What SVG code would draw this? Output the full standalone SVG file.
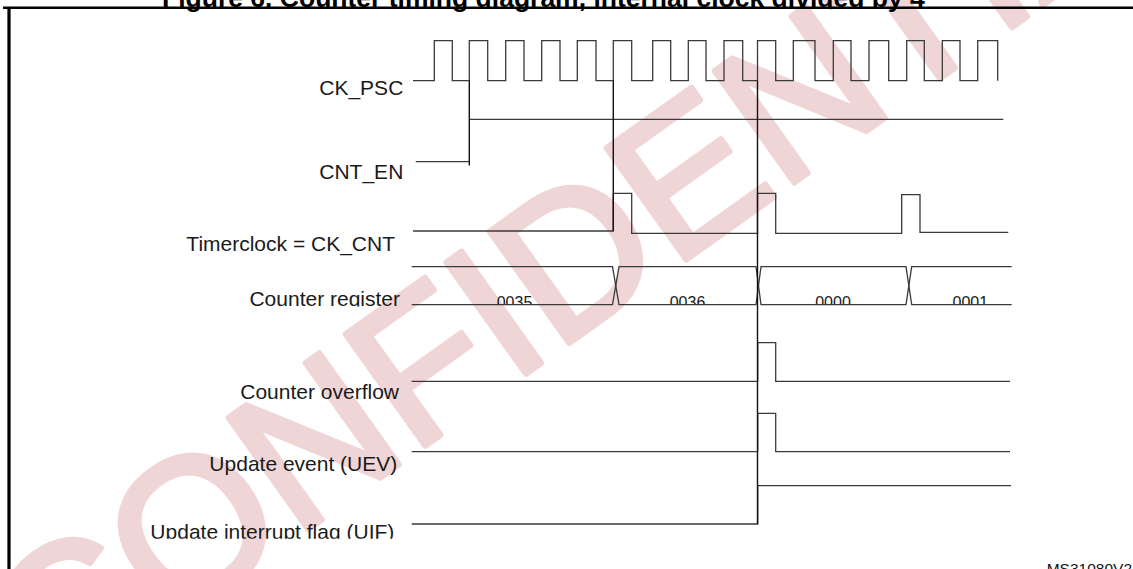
<svg xmlns="http://www.w3.org/2000/svg" width="1133" height="569" viewBox="0 0 1133 569">
<style>
  .lbl{font-family:"Liberation Sans",Arial,sans-serif;font-size:21px;fill:#1a1a1a;text-anchor:end}
  .val{font-family:"Liberation Sans",Arial,sans-serif;font-size:16px;fill:#1a1a1a;text-anchor:middle}
  .sig{fill:none;stroke:#3a3a3a;stroke-width:1.3;stroke-linejoin:miter}
  .mark{fill:none;stroke:#111;stroke-width:1.4}
  .wm{font-family:"Liberation Sans",Arial,sans-serif;font-size:199px;fill:#f0d5d7;stroke:#f0d5d7;stroke-width:6;stroke-linejoin:round}
</style>
<defs>
  <clipPath id="busclip"><rect x="400" y="260" width="620" height="44.3"/></clipPath>
  <clipPath id="regclip"><rect x="0" y="280" width="410" height="26.5"/></clipPath>
  <clipPath id="uifclip"><rect x="0" y="510" width="410" height="28.8"/></clipPath>
</defs>
<rect width="1133" height="569" fill="#fff"/>
<text class="wm" transform="translate(52,712) rotate(-35.5)">CONFIDENTIAL</text>

<g id="frame">
  <text x="162" y="6.5" font-family="'Liberation Sans',Arial,sans-serif" font-weight="bold" font-size="26.5" fill="#000">Figure 6. Counter timing diagram, internal clock divided by 4</text>
  <line x1="3" y1="7.8" x2="1133" y2="7.8" stroke="#000" stroke-width="2.5"/>
  <line x1="9" y1="7" x2="9" y2="569" stroke="#000" stroke-width="3.2"/>
  <text x="1046.7" y="574.4" font-family="'Liberation Sans',Arial,sans-serif" font-size="15.5" fill="#111">MS31080V2</text>
</g>

<g id="ck_psc">
  <text class="lbl" x="403.3" y="95">CK_PSC</text>
  <path class="sig" d="M413,80.7 H434.3 V40.7 H452.3 V80.7 H469.3 V40.7 H487.7 V80.7 H505.7 V40.7 H524 V80.7 H541.7 V40.7 H560 V80.7 H577.3 V40.7 H596 V80.7 H613.3 V40.7 H631.7 V80.7 H652.7 V40.7 H670.7 V80.7 H688.3 V40.7 H706 V80.7 H724 V40.7 H742.7 V80.7 H757.5 V40.7 H775.7 V80.7 H793.3 V40.7 H815 V80.7 H833.3 V40.7 H851 V80.7 H869 V40.7 H888.7 V80.7 H906.7 V40.7 H924.3 V80.7 H942.3 V40.7 H960 V80.7 H977.7 V40.7 H997.7 V80.7"/>
</g>

<g id="cnt_en">
  <text class="lbl" x="403.3" y="179">CNT_EN</text>
  <path class="sig" d="M415.7,161.7 H469.3 M469.3,119.3 H1003.3"/>
</g>

<g id="ck_cnt">
  <text class="lbl" x="395" y="251">Timerclock = CK_CNT</text>
  <path class="sig" d="M413,231 H613.3 V193.3 H631.7 V233.3 H757.5 V193.3 H775.7 V233.3 H901.7 V194.7 H920 V232.3 H1008.3"/>
</g>

<g id="counter_register">
  <text class="lbl" x="400" y="305.5" clip-path="url(#regclip)">Counter register</text>
  <path class="sig" d="M411.7,266.7 H612.5 L619,304.7 H756 L761,266.7 H906 L911.7,304.7 H1011.7"/>
  <path class="sig" d="M411.7,304.7 H612.5 L619,266.7 H756 L761,304.7 H906 L911.7,266.7 H1011.7"/>
  <g clip-path="url(#busclip)">
    <text class="val" x="514.5" y="307.5">0035</text>
    <text class="val" x="687.5" y="307.5">0036</text>
    <text class="val" x="833" y="307.5">0000</text>
    <text class="val" x="970.3" y="307.5">0001</text>
  </g>
</g>

<g id="counter_overflow">
  <text class="lbl" x="399" y="399.3">Counter overflow</text>
  <path class="sig" d="M411.7,381.3 H757.7 V342.7 H775.7 V381.3 H1010"/>
</g>

<g id="uev">
  <text class="lbl" x="397.3" y="470.5">Update event (UEV)</text>
  <path class="sig" d="M411.7,451.7 H757.7 V413.3 H775.7 V451.7 H1010"/>
</g>

<g id="uif">
  <text class="lbl" x="394.3" y="539" clip-path="url(#uifclip)">Update interrupt flag (UIF)</text>
  <path class="sig" d="M411.7,524 H757.7 V485.7 H1011"/>
</g>

<g id="connectors">
  <line class="mark" x1="469.3" y1="80.7" x2="469.3" y2="165.5"/>
  <line class="mark" x1="613.3" y1="80.7" x2="613.3" y2="231"/>
  <line class="mark" x1="757.5" y1="80.7" x2="757.5" y2="524"/>
</g>
</svg>
